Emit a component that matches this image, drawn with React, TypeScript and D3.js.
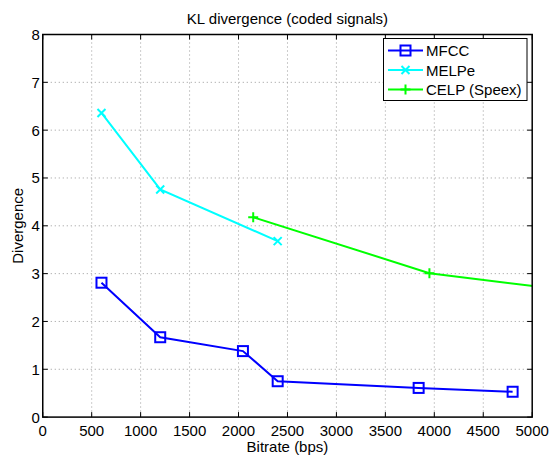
import React, { useEffect, useRef } from "react";
import * as d3 from "d3";

const mfccRate = [600, 1200, 2045, 2400, 3840, 4800];
const mfccDiv = [2.81, 1.67, 1.38, 0.75, 0.61, 0.53];

const melpeRate = [600, 1200, 2400];
const melpeDiv = [6.36, 4.76, 3.68];

const celpRate = [2150, 3950, 5950];
const celpDiv = [4.18, 3.01, 2.5];

const xTicks = [0, 500, 1000, 1500, 2000, 2500, 3000, 3500, 4000, 4500, 5000];
const yTicks = [0, 1, 2, 3, 4, 5, 6, 7, 8];

const seriesNames = ["MFCC", "MELPe", "CELP (Speex)"];
const seriesColors = ["#0000ff", "#00ffff", "#00ff00"];
const seriesMarkers = ["square", "x", "plus"];

const App = () => {
  const svgRef = useRef<SVGSVGElement>(null);

  useEffect(() => {
    const width = 553;
    const height = 456;
    const left = 42.75;
    const right = 532.2;
    const top = 34.5;
    const bottom = 417.1;
    const font = "'Liberation Sans', Arial, Helvetica, sans-serif";
    const fs = 15;

    const svg = d3.select(svgRef.current);
    svg.selectAll("*").remove();
    svg.attr("width", width).attr("height", height);

    svg.append("rect").attr("width", width).attr("height", height).attr("fill", "#fff");

    const x = d3.scaleLinear().domain([0, 5000]).range([left, right]);
    const y = d3.scaleLinear().domain([0, 8]).range([bottom, top]);

    svg
      .append("defs")
      .append("clipPath")
      .attr("id", "plotclip")
      .append("rect")
      .attr("x", left)
      .attr("y", top)
      .attr("width", right - left)
      .attr("height", bottom - top);

    // grid lines (dotted)
    const grid = svg.append("g").attr("stroke", "#999").attr("stroke-width", 1).attr("stroke-dasharray", "1,3");
    xTicks.slice(1, -1).forEach((t) => {
      grid.append("line").attr("x1", x(t)).attr("x2", x(t)).attr("y1", top).attr("y2", bottom);
    });
    yTicks.slice(1, -1).forEach((t) => {
      grid.append("line").attr("y1", y(t)).attr("y2", y(t)).attr("x1", left).attr("x2", right);
    });

    // ticks on all sides, pointing inward
    const ticks = svg.append("g").attr("stroke", "#000").attr("stroke-width", 1);
    xTicks.forEach((t) => {
      ticks.append("line").attr("x1", x(t)).attr("x2", x(t)).attr("y1", bottom).attr("y2", bottom - 5);
      ticks.append("line").attr("x1", x(t)).attr("x2", x(t)).attr("y1", top).attr("y2", top + 5);
    });
    yTicks.forEach((t) => {
      ticks.append("line").attr("y1", y(t)).attr("y2", y(t)).attr("x1", left).attr("x2", left + 5);
      ticks.append("line").attr("y1", y(t)).attr("y2", y(t)).attr("x1", right).attr("x2", right - 5);
    });

    // tick labels
    svg
      .append("g")
      .selectAll("text")
      .data(xTicks)
      .join("text")
      .attr("x", (d) => x(d))
      .attr("y", bottom + 19)
      .attr("text-anchor", "middle")
      .attr("font-family", font)
      .attr("font-size", fs)
      .text((d) => d);
    svg
      .append("g")
      .selectAll("text")
      .data(yTicks)
      .join("text")
      .attr("x", left - 3)
      .attr("y", (d) => y(d) + 5.5)
      .attr("text-anchor", "end")
      .attr("font-family", font)
      .attr("font-size", fs)
      .text((d) => d);

    // axis labels + title
    svg
      .append("text")
      .attr("x", (left + right) / 2)
      .attr("y", 452)
      .attr("text-anchor", "middle")
      .attr("font-family", font)
      .attr("font-size", fs)
      .text("Bitrate (bps)");
    svg
      .append("text")
      .attr("transform", `translate(23,${(top + bottom) / 2}) rotate(-90)`)
      .attr("text-anchor", "middle")
      .attr("font-family", font)
      .attr("font-size", fs)
      .text("Divergence");
    svg
      .append("text")
      .attr("x", (left + right) / 2)
      .attr("y", 24)
      .attr("text-anchor", "middle")
      .attr("font-family", font)
      .attr("font-size", fs)
      .text("KL divergence (coded signals)");

    const drawMarker = (g: any, kind: string, cx: number, cy: number, color: string) => {
      if (kind === "square") {
        g.append("rect")
          .attr("x", cx - 5)
          .attr("y", cy - 5)
          .attr("width", 10)
          .attr("height", 10)
          .attr("fill", "none")
          .attr("stroke", color)
          .attr("stroke-width", 2);
      } else if (kind === "x") {
        const r = 4;
        g.append("path")
          .attr("d", `M${cx - r},${cy - r}L${cx + r},${cy + r}M${cx - r},${cy + r}L${cx + r},${cy - r}`)
          .attr("stroke", color)
          .attr("stroke-width", 2);
      } else {
        const r = 5;
        g.append("path")
          .attr("d", `M${cx - r},${cy}L${cx + r},${cy}M${cx},${cy - r}L${cx},${cy + r}`)
          .attr("stroke", color)
          .attr("stroke-width", 2);
      }
    };

    const series = [
      { rate: mfccRate, div: mfccDiv },
      { rate: melpeRate, div: melpeDiv },
      { rate: celpRate, div: celpDiv },
    ];

    const line = d3
      .line<[number, number]>()
      .x((d) => x(d[0]))
      .y((d) => y(d[1]));

    const plot = svg.append("g").attr("clip-path", "url(#plotclip)");
    series.forEach((s, i) => {
      const pts: [number, number][] = s.rate.map((r, j) => [r, s.div[j]]);
      plot
        .append("path")
        .attr("d", line(pts))
        .attr("fill", "none")
        .attr("stroke", seriesColors[i])
        .attr("stroke-width", 2);
      pts.forEach((p) => drawMarker(plot, seriesMarkers[i], x(p[0]), y(p[1]), seriesColors[i]));
    });

    // frame
    svg
      .append("rect")
      .attr("x", left)
      .attr("y", top)
      .attr("width", right - left)
      .attr("height", bottom - top)
      .attr("fill", "none")
      .attr("stroke", "#000")
      .attr("stroke-width", 1.5);

    // legend
    const lg = svg.append("g");
    lg.append("rect")
      .attr("x", 383.5)
      .attr("y", 38.5)
      .attr("width", 143.5)
      .attr("height", 62)
      .attr("fill", "#fff")
      .attr("stroke", "#000")
      .attr("stroke-width", 1);
    seriesNames.forEach((name, i) => {
      const ly = 50.5 + i * 19.5;
      lg.append("line")
        .attr("x1", 388)
        .attr("x2", 423)
        .attr("y1", ly)
        .attr("y2", ly)
        .attr("stroke", seriesColors[i])
        .attr("stroke-width", 2);
      drawMarker(lg, seriesMarkers[i], 405.5, ly, seriesColors[i]);
      lg.append("text")
        .attr("x", 426)
        .attr("y", ly + 5.5)
        .attr("font-family", font)
        .attr("font-size", fs)
        .text(name);
    });
  }, []);

  return (
    <div style={{ position: "absolute", left: 0, top: 0 }}>
      <svg ref={svgRef}></svg>
    </div>
  );
};

export default App;
